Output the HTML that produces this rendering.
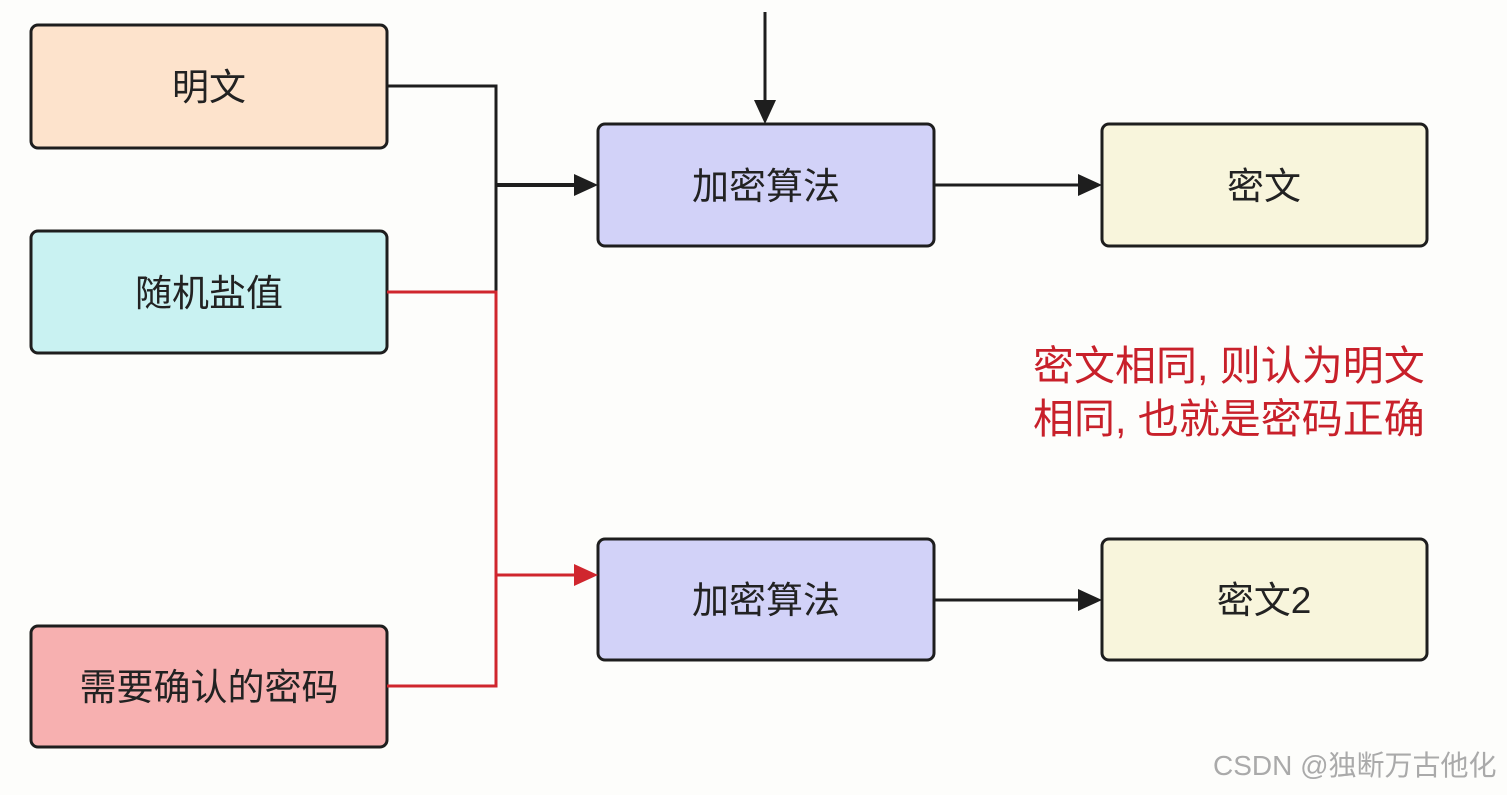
<!DOCTYPE html>
<html><head><meta charset="utf-8"><style>
html,body{margin:0;padding:0;background:#fdfdfb;}
text{font-family:"Liberation Sans","Noto Sans CJK SC",sans-serif;}
</style></head><body>
<svg width="1507" height="790" xmlns="http://www.w3.org/2000/svg">
<g stroke="#1e1e1e" stroke-width="3">
<rect x="31" y="25" width="356" height="123" rx="7" fill="#fde3cc"/>
<rect x="31" y="231" width="356" height="122" rx="7" fill="#c9f2f2"/>
<rect x="31" y="626" width="356" height="121" rx="7" fill="#f7b0b0"/>
<rect x="598" y="124" width="336" height="122" rx="7" fill="#d2d2f8"/>
<rect x="1102" y="124" width="325" height="122" rx="7" fill="#f8f5dc"/>
<rect x="598" y="539" width="336" height="121" rx="7" fill="#d2d2f8"/>
<rect x="1102" y="539" width="325" height="121" rx="7" fill="#f8f5dc"/>
</g>
<g fill="none" stroke-width="3">
<polyline points="387,86 496,86 496,292" stroke="#1e1e1e"/>
<polyline points="387,292 496,292 496,686 387,686" stroke="#d0262e"/>
<line x1="496" y1="185" x2="576" y2="185" stroke="#1e1e1e" stroke-width="4"/>
<line x1="496" y1="575" x2="576" y2="575" stroke="#d0262e"/>
<line x1="765" y1="12" x2="765" y2="102" stroke="#1e1e1e"/>
<line x1="934" y1="185" x2="1080" y2="185" stroke="#1e1e1e"/>
<line x1="934" y1="600" x2="1080" y2="600" stroke="#1e1e1e"/>
</g>
<path d="M574,174 L598,185 L574,196z" fill="#1e1e1e"/>
<path d="M574,564 L598,575 L574,586z" fill="#d0262e"/>
<path d="M754,100 L765,124 L776,100z" fill="#1e1e1e"/>
<path d="M1078,174 L1102,185 L1078,196z" fill="#1e1e1e"/>
<path d="M1078,589 L1102,600 L1078,611z" fill="#1e1e1e"/>
<g font-size="37" fill="#222" text-anchor="middle">
<text x="209" y="100">明文</text>
<text x="209" y="306">随机盐值</text>
<text x="209" y="700">需要确认的密码</text>
<text x="766" y="199">加密算法</text>
<text x="1264" y="199">密文</text>
<text x="766" y="613">加密算法</text>
<text x="1264" y="613">密文2</text>
</g>
<g font-size="41" fill="#c8202a">
<text x="1033" y="380">密文相同, 则认为明文</text>
<text x="1033" y="433">相同, 也就是密码正确</text>
</g>
<text x="1213" y="775" font-size="28" fill="#aaa">CSDN @独断万古他化</text>
</svg>
</body></html>
